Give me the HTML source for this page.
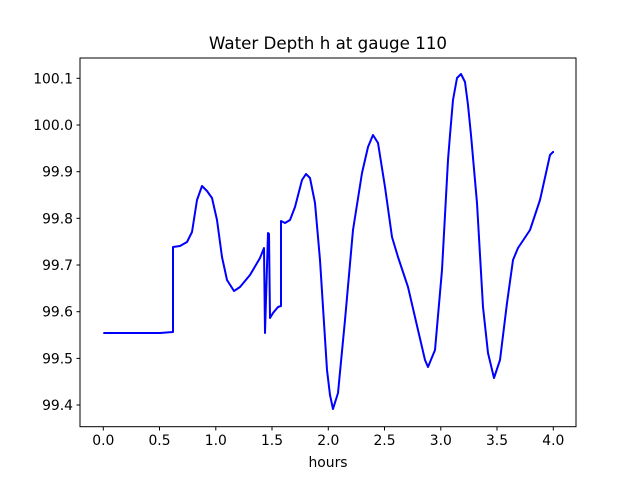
<!DOCTYPE html>
<html><head><meta charset="utf-8"><style>
body{margin:0;background:#fff;}
svg text{font-family:"DejaVu Sans","Liberation Sans",sans-serif;font-size:13.9px;fill:#000;}
</style></head><body>
<svg width="640" height="480" viewBox="0 0 640 480" xmlns="http://www.w3.org/2000/svg">
<rect width="640" height="480" fill="#fff"/>
<text x="328" y="49" text-anchor="middle" style="font-size:16.7px">Water Depth h at gauge 110</text>
<polyline fill="none" stroke="#0000ff" stroke-width="2" stroke-linejoin="round" points="
103.3,333 160,333 173,332 173,247 180,246 187,242 192,232 197,200 202,186 207,191 212,198 217,220 222,257 227,280 234,291 240,287 250,275 260,258 264,248 265,333 268,233 269,234 270,318 273,313 278,307 281,306 281,221 285,223 290,220 295,207 302,180 306,174 310,178 315,203 320,260 327,370 330,395 333,409 338,393 345,320 353,230 362,173 368,147 373,135 378,143 385,187 392,237 398,257 408,287 418,330 425,360 428,367 435,350 442,270 448,160 450,135 453,100 457,78 461,74 465,82 468,105 471,135 477,203 483,307 488,353 494,378 500,360 507,303 513,260 518,248 530,230 540,200 550,155 553,152 554,152"/>
<rect x="80" y="58" width="496" height="368.7" fill="none" stroke="#000" stroke-width="1"/>
<g stroke="#000" stroke-width="1">
<line x1="103.3" y1="427" x2="103.3" y2="430.5"/><line x1="159.5" y1="427" x2="159.5" y2="430.5"/><line x1="215.8" y1="427" x2="215.8" y2="430.5"/><line x1="272" y1="427" x2="272" y2="430.5"/><line x1="328.3" y1="427" x2="328.3" y2="430.5"/><line x1="384.5" y1="427" x2="384.5" y2="430.5"/><line x1="440.8" y1="427" x2="440.8" y2="430.5"/><line x1="497" y1="427" x2="497" y2="430.5"/><line x1="553.3" y1="427" x2="553.3" y2="430.5"/>
<line x1="76.5" y1="78.3" x2="80" y2="78.3"/><line x1="76.5" y1="125" x2="80" y2="125"/><line x1="76.5" y1="171.7" x2="80" y2="171.7"/><line x1="76.5" y1="218.3" x2="80" y2="218.3"/><line x1="76.5" y1="265" x2="80" y2="265"/><line x1="76.5" y1="311.7" x2="80" y2="311.7"/><line x1="76.5" y1="358.4" x2="80" y2="358.4"/><line x1="76.5" y1="405" x2="80" y2="405"/>
</g>
<g text-anchor="middle">
<text x="103.3" y="445">0.0</text><text x="159.5" y="445">0.5</text><text x="215.8" y="445">1.0</text><text x="272" y="445">1.5</text><text x="328.3" y="445">2.0</text><text x="384.5" y="445">2.5</text><text x="440.8" y="445">3.0</text><text x="497" y="445">3.5</text><text x="553.3" y="445">4.0</text>
<text x="328" y="467">hours</text>
</g>
<g text-anchor="end">
<text x="73" y="83.3">100.1</text><text x="73" y="130">100.0</text><text x="73" y="176.7">99.9</text><text x="73" y="223.3">99.8</text><text x="73" y="270">99.7</text><text x="73" y="316.7">99.6</text><text x="73" y="363.4">99.5</text><text x="73" y="410">99.4</text>
</g>
</svg>
</body></html>
